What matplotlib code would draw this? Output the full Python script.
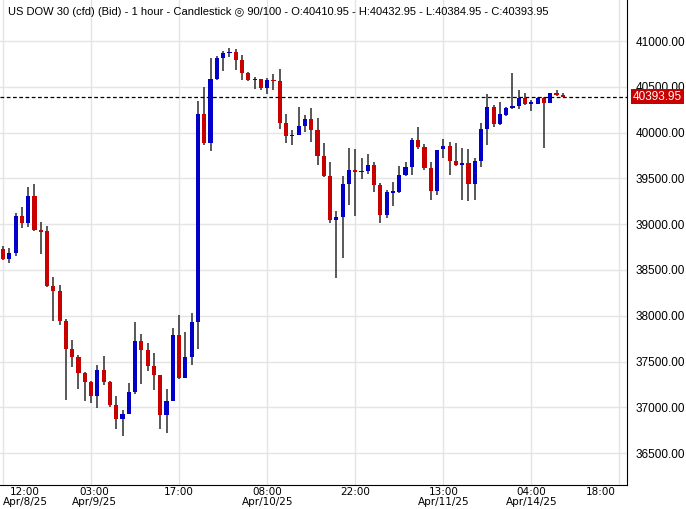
import matplotlib
matplotlib.use("Agg")
import matplotlib.pyplot as plt
import numpy as np

opens = [38728,38619,38688,39089,39016,39307,38932,38925,38328,38270,37942,37636,37549,37374,37280,37127,37407,37280,37025,36876,
         36930,37170,37724,37625,37451,37352,36919,37072,37789,37323,37549,37935,40203,39890,40585,40814,40876,40876,40793,40651,
         40581,40585,40490,40574,40563,40105,39970,39977,40072,40148,40028,39744,39526,39045,39082,39438,39591,39577,39580,39646,
         39428,39104,39351,39351,39541,39628,39919,39839,39614,39366,39817,39854,39690,39657,39668,39443,39690,40040,40280,40094,
         40192,40272,40291,40382,40320,40316,40382,40327,40436,40410.95]
highs = [38757,38743,39118,39191,39409,39438,39023,38979,38423,38335,37964,37735,37571,37389,37291,37462,37560,37290,37123,36970,
         37269,37931,37800,37705,37593,37356,37200,37866,38008,37818,38030,40345,40498,40818,40840,40895,40924,40913,40847,40660,
         40610,40590,40592,40643,40694,40203,40030,40279,40192,40268,40159,39886,39679,39144,39530,39832,39821,39726,39766,39679,
         39453,39373,39464,39635,39679,39941,40061,39876,39679,39810,39930,39897,39887,39832,39821,39720,40105,40425,40305,40334,
         40275,40655,40465,40436,40356,40392,40390,40436,40465,40432.95]
lows = [38608,38579,38652,38961,38972,38925,38677,38317,37946,37898,37079,37443,37200,37072,37050,36996,37243,36999,36766,36690,
        36923,37145,37258,37396,37192,36766,36719,37072,37309,37316,37465,37636,39868,39803,40574,40676,40829,40687,40574,40565,
        40480,40465,40425,40465,40043,39890,39868,39970,40010,39893,39646,39519,39009,38412,38630,39213,39093,39493,39548,39351,
        39016,39071,39202,39340,39530,39537,39825,39595,39264,39319,39723,39537,39640,39264,39257,39264,39628,39868,40065,40088,
        40185,40260,40258,40305,40236,40308,39832,40320,40400,40384.95]
closes = [38619,38685,39089,39016,39307,38936,38925,38328,38273,37946,37640,37553,37378,37280,37127,37407,37280,37028,36876,36927,
          37170,37724,37625,37454,37356,36919,37072,37789,37323,37549,37931,40203,39890,40585,40814,40869,40876,40796,40654,40574,
          40581,40490,40574,40567,40108,39966,39970,40072,40148,40032,39748,39526,39045,39074,39438,39591,39569,39577,39646,39428,
          39104,39351,39351,39537,39625,39919,39839,39617,39366,39810,39854,39694,39650,39657,39443,39690,40040,40280,40094,40203,
          40269,40291,40382,40316,40320,40382,40327,40433,40411,40393.95]

y_ticks = [36500,37000,37500,38000,38500,39000,39500,40000,40500,41000]
x_tick_pos = [0, 14, 28, 42, 56, 70, 84, 98]
x_tick_labels = ["12:00\nApr/8/25", "03:00\nApr/9/25", "17:00", "08:00\nApr/10/25", "22:00",
                 "13:00\nApr/11/25", "04:00\nApr/14/25", "18:00"]
title = "US DOW 30 (cfd) (Bid) - 1 hour - Candlestick \u25CE 90/100 - O:40410.95 - H:40432.95 - L:40384.95 - C:40393.95"
last_price = 40393.95

fig = plt.figure(figsize=(6.86, 5.09), dpi=100)
ax = fig.add_axes([0, 24/509, 627/686, 485/509])
px = 6.29
x0 = 3
ax.set_xlim(-x0/px, (627 - x0)/px)
ax.set_ylim(36152, 41448)

BLUE = "#0000c8"
RED = "#c80000"
for i, (o, h, l, c) in enumerate(zip(opens, highs, lows, closes)):
    col = BLUE if c >= o else RED
    ax.vlines(i, l, h, color="#2b2b2b", lw=1.1, zorder=2)
    lo, hi = min(o, c), max(o, c)
    hgt = max(hi - lo, 18)
    ax.bar(i, hgt, bottom=lo if hi - lo >= 18 else (o + c) / 2 - 9, width=0.66, color=col, zorder=3, linewidth=0)

ax.set_yticks(y_ticks)
ax.yaxis.tick_right()
ax.set_yticklabels([f"{v:.2f}" for v in y_ticks], fontsize=8.5, family="Liberation Sans")
ax.tick_params(axis="y", length=0, pad=6)
ax.set_xticks(x_tick_pos)
ax.set_xticklabels([])
ax.tick_params(axis="x", length=0)
ax.grid(True, color="#e4e4e4", lw=1, zorder=0)
for sp in ["top", "left"]:
    ax.spines[sp].set_visible(False)
ax.spines["right"].set_color("black")
ax.spines["bottom"].set_color("black")

label_x = [3.5, 14.5, 28, 42, 56, 70, 84, 95]
for lx, lab in zip(label_x, x_tick_labels):
    ax.text(lx, -0.004, lab, transform=ax.get_xaxis_transform(), ha="center", va="top",
            fontsize=7.5, family="Liberation Sans Narrow", linespacing=0.95)

ax.axhline(last_price, color="black", lw=0.9, ls=(0, (3, 2)), zorder=4)
ax.text(1.009, last_price, f"{last_price:.2f}", transform=ax.get_yaxis_transform(), ha="left", va="center",
        fontsize=8.5, color="white", family="Liberation Sans",
        bbox=dict(boxstyle="square,pad=0.15", fc="#c80000", ec="none"), zorder=5, clip_on=False)

ax.text(0.012, 0.975, title, transform=ax.transAxes, ha="left", va="center", fontsize=8,
        family=["Liberation Sans", "DejaVu Sans"], zorder=6)

fig.savefig("out.png", dpi=100)
